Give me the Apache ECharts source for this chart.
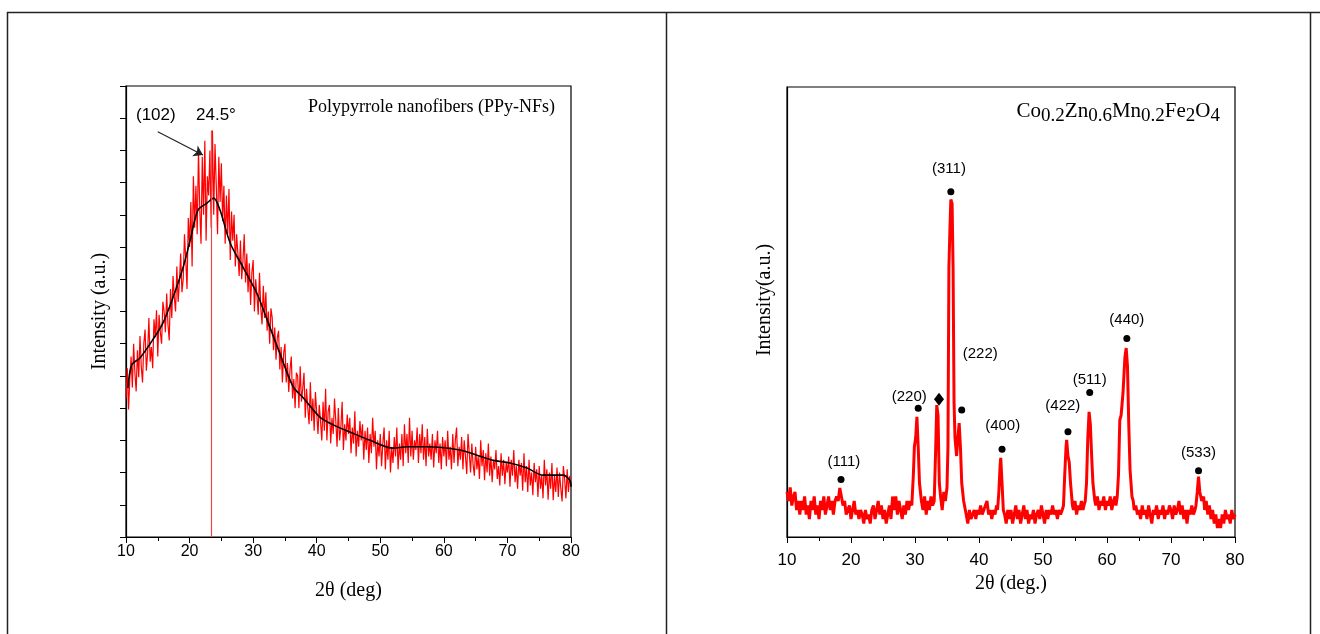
<!DOCTYPE html>
<html>
<head>
<meta charset="utf-8">
<script src="https://cdn.jsdelivr.net/npm/echarts@6/dist/echarts.min.js"></script>
<style>
  html, body { margin: 0; padding: 0; background: #fff; }
  #main { width: 1320px; height: 634px; }
</style>
</head>
<body>
<div id="main"></div>
<script>
// PPy-NFs raw pattern, one value every 0.2 deg from 10 to 80
const ppyStart = 10;
const ppyStep = 0.2;
const ppyRaw = [
  215, 262, 198, 245, 280, 232, 300, 255, 226, 290,
  248, 312, 265, 240, 300, 322, 258, 285, 340, 272,
  295, 262, 338, 310, 352, 280, 345, 318, 300, 365,
  350, 318, 378, 330, 305, 385, 340, 405, 372, 350,
  420, 365, 395, 440, 380, 400, 470, 430, 385, 495,
  450, 520, 420, 560, 480, 545, 470, 600, 510, 455,
  590, 500, 615, 460, 560, 530, 600, 480, 631, 500,
  610, 545, 470, 590, 520, 580, 490, 545, 455, 530,
  470, 540, 430, 505, 460, 500, 420, 470, 440, 405,
  460, 400, 430, 470, 395, 440, 380, 425, 360, 410,
  430, 350, 400, 375, 345, 410, 355, 330, 390, 340,
  380, 320, 350, 300, 355, 340, 290, 325, 275, 310,
  320, 260, 295, 240, 285, 300, 240, 270, 225, 260,
  280, 215, 245, 200, 255, 250, 200, 265, 210, 230,
  255, 185, 230, 200, 175, 240, 180, 215, 165, 225,
  225, 160, 205, 180, 150, 210, 165, 230, 150, 195,
  205, 145, 185, 160, 215, 180, 140, 200, 150, 170,
  210, 135, 175, 150, 190, 160, 185, 130, 170, 145,
  195, 125, 165, 140, 180, 150, 175, 120, 165, 135,
  170, 115, 160, 130, 185, 140, 165, 105, 150, 125,
  160, 110, 145, 170, 105, 150, 120, 165, 100, 140,
  115, 155, 125, 170, 105, 145, 120, 160, 110, 175,
  130, 160, 115, 185, 125, 165, 120, 150, 135, 170,
  115, 160, 130, 175, 120, 155, 110, 168, 125, 145,
  120, 160, 108, 150, 130, 165, 115, 145, 105, 155,
  125, 150, 110, 165, 120, 140, 105, 160, 115, 150,
  170, 110, 140, 120, 155, 105, 150, 125, 98, 160,
  130, 100, 145, 112, 95, 140, 105, 125, 90, 150,
  110, 135, 88, 130, 100, 145, 95, 125, 85, 120,
  105, 135, 90, 110, 80, 130, 95, 120, 82, 115,
  100, 125, 78, 120, 95, 135, 85, 110, 75, 120,
  95, 115, 72, 130, 85, 110, 70, 120, 80, 100,
  65, 115, 85, 105, 62, 110, 75, 95, 60, 120,
  80, 105, 58, 100, 75, 115, 57, 95, 70, 108,
  62, 100, 75, 55, 110, 90, 60, 105, 70, 95,
  78
];

// smoothed PPy-NFs curve
const ppySmoothX = [10.3, 10.9, 12.2, 14.2, 15.8, 17.4, 19.0, 20.1, 21.3, 22.7, 23.8, 24.8,
  26.4, 28.4, 30.6, 32.2, 34.2, 36.3, 37.8, 40.5, 42.6, 45.2, 48.4, 52.0, 54.2, 56.2,
  57.3, 62.5, 65.2, 67.7, 70.4, 73.1, 75.6, 78.7, 79.8, 80];
const ppySmoothY = [231, 267, 278, 306, 332, 372, 419, 461, 507, 518, 526, 507,
  456, 419, 378, 337, 285, 233, 217, 186, 174, 163, 150, 138, 140, 140,
  140, 135, 127, 119, 115, 107, 96, 96, 88, 78];

// (102) reflection marker
const ppyPeakX = 23.4;
const ppyPeakY = 631;
const arrowFrom = [15.0, 629];
const arrowTo = [22.1, 593];

// ferrite pattern [2theta, intensity]
const ferrite = [
  [10, 10], [10.25, 8], [10.5, 11], [10.75, 7], [11, 9], [11.25, 10], [11.5, 6], [11.75, 8],
  [12, 5], [12.25, 8], [12.5, 6], [12.75, 9], [13, 5], [13.25, 7], [13.5, 4], [13.75, 8],
  [14, 6], [14.25, 9], [14.5, 5], [14.75, 7], [15, 4], [15.25, 8], [15.5, 6], [15.75, 9],
  [16, 5], [16.25, 7], [16.5, 9], [16.75, 6], [17, 8], [17.25, 5], [17.5, 8], [17.75, 9],
  [18, 8], [18.25, 10.9], [18.5, 9], [18.75, 7], [19, 8], [19.25, 5], [19.5, 6], [19.75, 7],
  [20, 4], [20.25, 6], [20.5, 8], [20.75, 5], [21, 6], [21.25, 4], [21.5, 6], [21.75, 5],
  [22, 3], [22.25, 6], [22.5, 4], [22.75, 5], [23, 3], [23.25, 6], [23.5, 7], [23.75, 4],
  [24, 6], [24.25, 8], [24.5, 5], [24.75, 7], [25, 4], [25.25, 6], [25.5, 3], [25.75, 5],
  [26, 7], [26.25, 4], [26.5, 9], [26.75, 6], [27, 9], [27.25, 5], [27.5, 8], [27.75, 6],
  [28, 4], [28.25, 7], [28.5, 5], [28.75, 8], [29, 6], [29.25, 8], [29.5, 7], [29.75, 14],
  [29.9, 20], [30.1, 22], [30.3, 26.7], [30.5, 20], [30.7, 12], [31, 8], [31.25, 6], [31.5, 9],
  [31.75, 5], [32, 8], [32.25, 6], [32.5, 9], [32.75, 7], [33, 8], [33.2, 18], [33.4, 29.3],
  [33.6, 27], [33.8, 12], [34, 9], [34.25, 6], [34.5, 10], [34.75, 8], [35, 11], [35.15, 20],
  [35.3, 60], [35.45, 68], [35.6, 75], [35.8, 74], [35.95, 60], [36.1, 30], [36.25, 22],
  [36.5, 18], [36.7, 22], [36.9, 25.3], [37.1, 20], [37.3, 12], [37.6, 8], [38, 5],
  [38.25, 3], [38.5, 6], [38.75, 4], [39, 5], [39.25, 6], [39.5, 4], [39.75, 6], [40, 5],
  [40.25, 7], [40.5, 5], [40.75, 6], [41, 7], [41.25, 8], [41.5, 5], [41.75, 6], [42, 4],
  [42.25, 6], [42.5, 5], [42.75, 7], [42.9, 6], [43.1, 10], [43.3, 16], [43.4, 17.6],
  [43.6, 12], [43.8, 6], [44, 5], [44.25, 3], [44.5, 6], [44.75, 4], [45, 6], [45.25, 3],
  [45.5, 5], [45.75, 7], [46, 4], [46.25, 6], [46.5, 3], [46.75, 5], [47, 7], [47.25, 4],
  [47.5, 6], [47.75, 3], [48, 5], [48.25, 4], [48.5, 6], [48.75, 3], [49, 5], [49.25, 6],
  [49.5, 4], [49.75, 7], [50, 5], [50.25, 3], [50.5, 6], [50.75, 4], [51, 6], [51.25, 5],
  [51.5, 7], [51.75, 5], [52, 6], [52.25, 4], [52.5, 6], [52.75, 5], [53, 6], [53.2, 7],
  [53.4, 14], [53.6, 20], [53.7, 21.6], [53.9, 18], [54.1, 16.6], [54.3, 12], [54.6, 7],
  [54.75, 6], [55, 8], [55.25, 5], [55.5, 7], [55.75, 6], [56, 8], [56.25, 6], [56.4, 7],
  [56.6, 8], [56.8, 12], [57, 22], [57.2, 27.8], [57.4, 25], [57.6, 18], [57.8, 12],
  [58.1, 8], [58.25, 7], [58.5, 9], [58.75, 6], [59, 8], [59.25, 7], [59.5, 9], [59.75, 6],
  [60, 8], [60.25, 7], [60.5, 9], [60.75, 6], [61, 8], [61.25, 9], [61.4, 7], [61.6, 9],
  [61.8, 14], [62, 26], [62.2, 27], [62.5, 32], [62.8, 40], [63, 42], [63.2, 38],
  [63.4, 25], [63.6, 15], [63.9, 9], [64.1, 8], [64.25, 6], [64.5, 7], [64.75, 5], [65, 6],
  [65.25, 4], [65.5, 7], [65.75, 5], [66, 6], [66.25, 4], [66.5, 7], [66.75, 5], [67, 3],
  [67.25, 6], [67.5, 5], [67.75, 7], [68, 4], [68.25, 6], [68.5, 5], [68.75, 7], [69, 4],
  [69.25, 6], [69.5, 5], [69.75, 7], [70, 6], [70.25, 4], [70.5, 7], [70.75, 5], [71, 6],
  [71.25, 8], [71.5, 5], [71.75, 7], [72, 4], [72.25, 6], [72.5, 3], [72.75, 6], [73, 5],
  [73.25, 7], [73.5, 5], [73.75, 6], [73.9, 7], [74.1, 10], [74.3, 13.4], [74.5, 10],
  [74.8, 8], [75.1, 9], [75.25, 6], [75.5, 8], [75.75, 5], [76, 7], [76.25, 4], [76.5, 6],
  [76.75, 3], [77, 5], [77.25, 2], [77.5, 4], [77.75, 2], [78, 5], [78.25, 3], [78.5, 6],
  [78.75, 4], [79, 5], [79.25, 3], [79.5, 6], [79.75, 4], [80, 5]
];

// spinel reflections (dots) and the impurity peak (diamond)
const dotX = [18.44, 30.5, 35.6, 37.3, 43.6, 53.9, 57.3, 63.1, 74.3];
const dotY = [12.8, 28.6, 76.7, 28.2, 19.5, 23.4, 32.1, 44.1, 14.7];
const diamondPos = [33.75, 30.6];
const hklNames = ['(111)', '(220)', '(311)', '(222)', '(400)', '(422)', '(511)', '(440)', '(533)'];
const hklX = [18.9, 29.1, 35.3, 40.2, 43.7, 53.1, 57.3, 63.1, 74.3];
const hklY = [16.7, 31.2, 81.9, 40.8, 24.7, 29.1, 35.0, 48.2, 18.7];

const xTicks = { min: 10, max: 80, interval: 10 };

const serif = 'Liberation Serif';
const sans = 'Liberation Sans';

const ppyData = ppyRaw.map((v, i) => [+(ppyStart + i * ppyStep).toFixed(2), v]);
const smoothData = ppySmoothX.map((x, i) => [x, ppySmoothY[i]]);

const chart = echarts.init(document.getElementById('main'));

const xAxisBase = (grid, name, gap, margin, fs) => ({
  type: 'value',
  gridIndex: grid,
  min: xTicks.min,
  max: xTicks.max,
  interval: xTicks.interval,
  name: name,
  nameLocation: 'middle',
  nameGap: gap,
  nameTextStyle: { fontFamily: serif, fontSize: 20, color: '#000' },
  axisLine: { show: true, lineStyle: { color: '#000', width: 1.2 } },
  axisTick: { show: true, length: 6, lineStyle: { color: '#000' } },
  minorTick: { show: true, splitNumber: 2, length: 4, lineStyle: { color: '#000' } },
  axisLabel: { fontFamily: sans, fontSize: fs, color: '#000', margin: margin },
  splitLine: { show: false },
});

const blackLabel = { fontFamily: sans, fontSize: 15, color: '#000' };

chart.setOption({
  animation: false,
  backgroundColor: '#fff',
  title: [
    {
      text: 'Polypyrrole nanofibers (PPy-NFs)',
      right: 765, top: 98, padding: 0,
      textStyle: { fontFamily: serif, fontSize: 18, fontWeight: 'normal', color: '#000' },
    },
    {
      text: '(102)',
      left: 136, top: 107, padding: 0,
      textStyle: { fontFamily: sans, fontSize: 17, fontWeight: 'normal', color: '#000' },
    },
    {
      text: '24.5°',
      left: 196, top: 107, padding: 0,
      textStyle: { fontFamily: sans, fontSize: 17, fontWeight: 'normal', color: '#000' },
    },
    {
      text: '{n|Co}{s|0.2}{n|Zn}{s|0.6}{n|Mn}{s|0.2}{n|Fe}{s|2}{n|O}{s|4}',
      right: 100, top: 97, padding: 0,
      textStyle: {
        fontWeight: 'normal',
        rich: {
          n: { fontFamily: serif, fontSize: 21, fontWeight: 'normal', color: '#000' },
          s: { fontFamily: serif, fontSize: 19, fontWeight: 'normal', color: '#000', padding: [10, 0, 0, 0] },
        },
      },
    },
  ],
  grid: [
    { left: 126, top: 86, width: 445, height: 451, show: true, borderColor: '#000', borderWidth: 1.2 },
    { left: 787, top: 87, width: 448, height: 450, show: true, borderColor: '#000', borderWidth: 1.2 },
  ],
  xAxis: [
    xAxisBase(0, '2θ (deg)', 44, 7, 16),
    xAxisBase(1, '2θ (deg.)', 34, 15, 17),
  ],
  yAxis: [
    {
      type: 'value', gridIndex: 0, min: 0, max: 700, interval: 50,
      name: 'Intensity (a.u.)', nameLocation: 'middle', nameGap: 16,
      nameTextStyle: { fontFamily: serif, fontSize: 20, color: '#000' },
      axisLine: { show: true, lineStyle: { color: '#000', width: 1.2 } },
      axisTick: { show: true, length: 6, lineStyle: { color: '#000' } },
      axisLabel: { show: false },
      splitLine: { show: false },
    },
    {
      type: 'value', gridIndex: 1, min: 0, max: 100,
      name: 'Intensity(a.u.)', nameLocation: 'middle', nameGap: 12,
      nameTextStyle: { fontFamily: serif, fontSize: 20, color: '#000', padding: [0, 0, 0, 24] },
      axisLine: { show: true, lineStyle: { color: '#000', width: 1.2 } },
      axisTick: { show: false },
      axisLabel: { show: false },
      splitLine: { show: false },
    },
  ],
  series: [
    {
      type: 'line', xAxisIndex: 0, yAxisIndex: 0,
      data: ppyData, symbol: 'none',
      lineStyle: { color: '#ff0000', width: 1.2 },
      markLine: {
        silent: true,
        label: { show: false },
        data: [
          [
            { coord: [ppyPeakX, 0], symbol: 'none' },
            { coord: [ppyPeakX, ppyPeakY], symbol: 'none' },
          ],
          [
            { coord: arrowFrom, symbol: 'none', lineStyle: { color: '#222', width: 1.2, type: 'solid' } },
            { coord: arrowTo, symbol: 'arrow', symbolSize: 9 },
          ],
        ],
        lineStyle: { color: '#f04848', width: 1.2, type: 'solid' },
      },
    },
    {
      type: 'line', xAxisIndex: 0, yAxisIndex: 0,
      data: smoothData, symbol: 'none', smooth: 0.3,
      lineStyle: { color: '#000', width: 1.6 },
    },
    {
      type: 'line', xAxisIndex: 1, yAxisIndex: 1,
      data: ferrite, symbol: 'none',
      lineStyle: { color: '#ff0000', width: 3 },
    },
    {
      type: 'scatter', xAxisIndex: 1, yAxisIndex: 1,
      data: dotX.map((x, i) => [x, dotY[i]]),
      symbol: 'circle', symbolSize: 7,
      itemStyle: { color: '#000', opacity: 1 },
    },
    {
      type: 'scatter', xAxisIndex: 1, yAxisIndex: 1,
      data: [diamondPos],
      symbol: 'diamond', symbolSize: [10, 13],
      itemStyle: { color: '#000', opacity: 1 },
    },
    {
      type: 'scatter', xAxisIndex: 1, yAxisIndex: 1,
      data: hklNames.map((n, i) => ({ name: n, value: [hklX[i], hklY[i]] })),
      symbolSize: 1,
      itemStyle: { color: '#fff', opacity: 0 },
      label: Object.assign({ show: true, position: 'inside', formatter: (p) => p.name, opacity: 1 }, blackLabel),
    },
  ],
  graphic: [
    { type: 'line', shape: { x1: 7, y1: 12.5, x2: 1320, y2: 12.5 }, style: { stroke: '#222', lineWidth: 1.5 } },
    { type: 'line', shape: { x1: 7.5, y1: 12, x2: 7.5, y2: 634 }, style: { stroke: '#222', lineWidth: 1.5 } },
    { type: 'line', shape: { x1: 666.5, y1: 12, x2: 666.5, y2: 634 }, style: { stroke: '#222', lineWidth: 1.5 } },
    { type: 'line', shape: { x1: 1310.5, y1: 12, x2: 1310.5, y2: 634 }, style: { stroke: '#222', lineWidth: 1.5 } },
  ],
});
</script>
</body>
</html>
